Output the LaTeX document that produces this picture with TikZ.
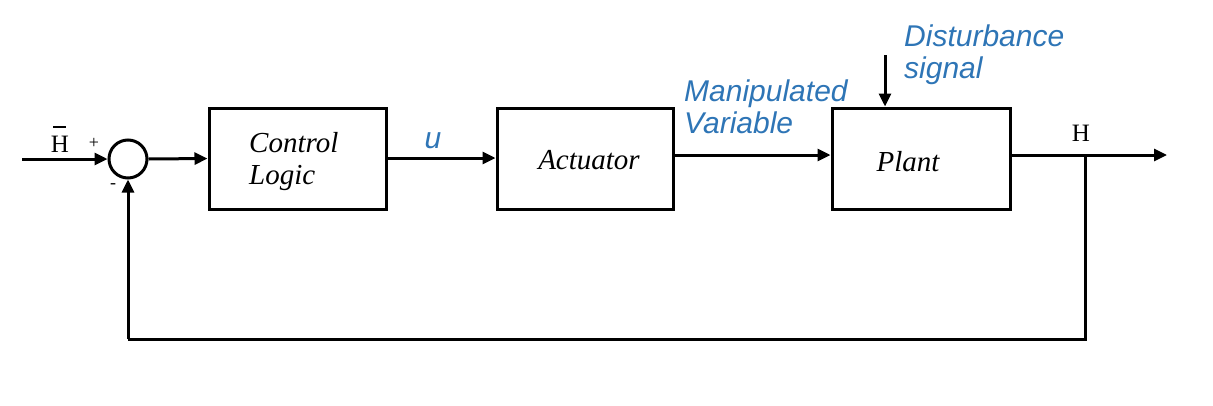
\documentclass[tikz,border=0pt]{standalone}
\usepackage{fontspec}
\setmainfont{Liberation Serif}
\newfontfamily\lsans{Liberation Sans}
\usetikzlibrary{arrows.meta}
\definecolor{lblue}{HTML}{2E75B6}
\begin{document}
\begin{tikzpicture}[x=1pt,y=-1pt,
  blk/.style={draw,line width=3pt,inner sep=0pt},
  btxt/.style={inner sep=0pt,font=\fontsize{29}{32}\selectfont\itshape,align=left},
  wire/.style={line width=3pt,-{Triangle[length=13pt,width=12pt]}},
  plain/.style={line width=3pt},
  blab/.style={text=lblue,font=\lsans\itshape\fontsize{30}{32}\selectfont,align=left,inner sep=0pt},
  tlab/.style={font=\fontsize{25}{28}\selectfont,inner sep=0pt}]
\useasboundingbox (0,0) rectangle (1213,405);
\node[draw,circle,line width=3pt,minimum size=38pt,inner sep=0pt] (sum) at (128,159) {};
\node[blk,minimum width=177pt,minimum height=101pt] (ctl) at (297.5,158.5) {};
\node[blk,minimum width=176pt,minimum height=101pt] (act) at (585,158.5) {};
\node[blk,minimum width=178pt,minimum height=101pt] (plant) at (921,158.5) {};
\node[btxt,anchor=west] (ctltxt) at (249,162) {Control\\Logic};
\node[btxt] (acttxt) at (589,160) {Actuator};
\node[btxt] (planttxt) at (908,162) {Plant};
\coordinate (in) at (22,159);
\coordinate (out) at (1167,155);
\coordinate (tap) at (1085,155);
\coordinate (fb1) at (1085,339);
\coordinate (fb2) at (128,339);
\coordinate (dist) at (885,55);
\node[tlab,anchor=base] (hbar) at (60,152) {\rlap{\hspace{0.1em}\rule[0.97em]{0.52em}{1.6pt}}H};
\node[font=\fontsize{18}{18}\selectfont,inner sep=0pt] (plus) at (94,143) {+};
\node[font=\fontsize{18}{18}\selectfont,inner sep=0pt] (minus) at (113,186) {-};
\node[tlab] (hout) at (1081,133) {H};
\node[blab] (u) at (433,141) {u};
\node[blab,anchor=west] (mv) at (684,107) {Manipulated\\Variable};
\node[blab,anchor=west] (dis) at (904,55) {Disturbance\\signal};
\draw[wire] (in) -- (sum.west);
\draw[wire] (sum.east) -- (ctl.west);
\draw[wire] (ctl.east |- 0,158) -- (act.west |- 0,158);
\draw[wire] (act.east |- 0,155) -- (plant.west |- 0,155);
\draw[wire] (plant.east |- 0,155) -- (out);
\draw[wire] (dist) -- (dist |- plant.north);
\draw[plain] (tap) -- (fb1) -- (fb2);
\draw[wire] (fb2) -- (sum.south);
\end{tikzpicture}
\end{document}
